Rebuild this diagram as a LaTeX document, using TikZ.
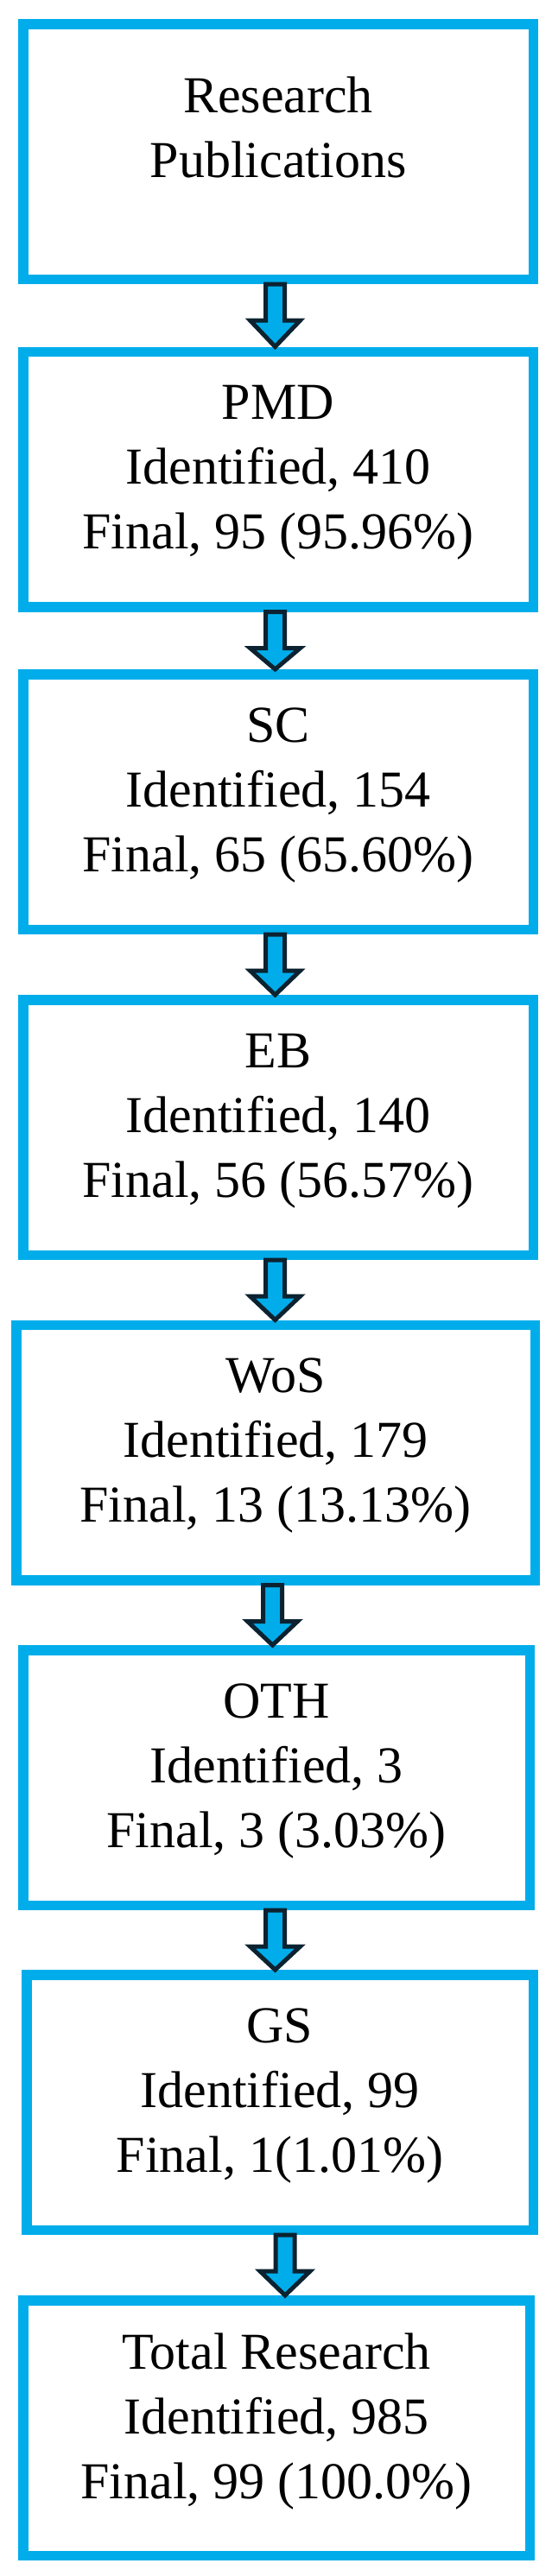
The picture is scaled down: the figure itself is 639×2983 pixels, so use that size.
\documentclass[tikz,border=0pt]{standalone}
\usepackage{fontspec}
\setmainfont{Liberation Serif}
\usetikzlibrary{calc}

\definecolor{cutie}{RGB}{0,173,234}
\definecolor{contur}{RGB}{12,34,48}

\tikzset{
  caseta/.style={draw=cutie, line width=11.5pt, align=center, inner sep=0pt,
    minimum width=#1, minimum height=295.5pt, text depth=28pt,
    font=\fontsize{60}{75}\selectfont},
  caseta/.default=590.5pt,
  sageata/.style={draw=contur, fill=cutie, line width=5pt, line join=miter}
}

% sageata plina intre doua casete, la abscisa #3
\newcommand{\sageatajos}[3]{%
  \draw[sageata] let \p1=(#1.south), \p2=(#2.north) in
    (#3pt-11pt,\y1) -- (#3pt+11pt,\y1) -- (#3pt+11pt,\y1-42pt)
    -- (#3pt+29pt,\y1-42pt) -- (#3pt,\y2) -- (#3pt-29pt,\y1-42pt)
    -- (#3pt-11pt,\y1-42pt) -- cycle;}

\begin{document}
\begin{tikzpicture}[x=1pt, y=-1pt]
  \fill[white] (0,0) rectangle (639,2983);
  \useasboundingbox (0,0) rectangle (639,2983);

  % casetele
  \node[caseta, text height=72pt, text depth=13pt] (research) at (322,175.5) {Research\\Publications};
  \node[caseta] (pmd) at (322,555) {PMD\\Identified, 410\\Final, 95 (95.96\%)};
  \node[caseta] (sc) at (322,928.5) {SC\\Identified, 154\\Final, 65 (65.60\%)};
  \node[caseta] (eb) at (322,1305.5) {EB\\Identified, 140\\Final, 56 (56.57\%)};
  \node[caseta=600.5pt] (wos) at (319,1682) {WoS\\Identified, 179\\Final, 13 (13.13\%)};
  \node[caseta=586.5pt] (oth) at (320,2058.5) {OTH\\Identified, 3\\Final, 3 (3.03\%)};
  \node[caseta=586.5pt] (gs) at (324,2434.5) {GS\\Identified, 99\\Final, 1(1.01\%)};
  \node[caseta=586.5pt] (total) at (320,2811.5) {Total Research\\Identified, 985\\Final, 99 (100.0\%)};

  % sagetile
  \sageatajos{research}{pmd}{318.5}
  \sageatajos{pmd}{sc}{318.5}
  \sageatajos{sc}{eb}{318.5}
  \sageatajos{eb}{wos}{318.5}
  \sageatajos{wos}{oth}{315.5}
  \sageatajos{oth}{gs}{318.5}
  \sageatajos{gs}{total}{330}
\end{tikzpicture}
\end{document}
